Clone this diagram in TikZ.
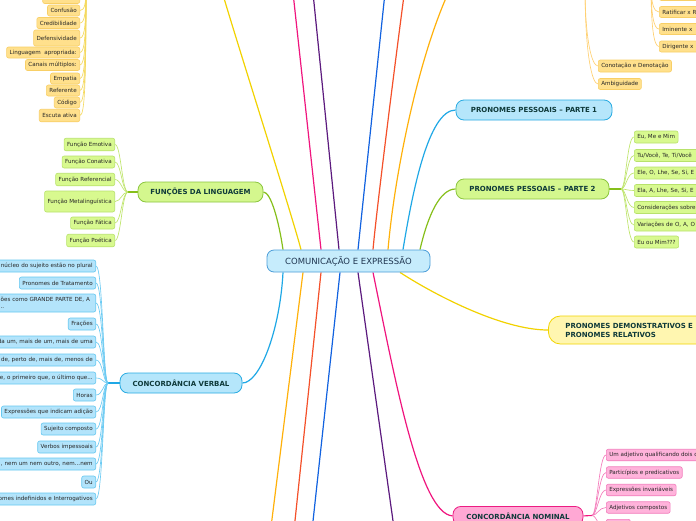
\documentclass[tikz,border=0pt]{standalone}
\usepackage{fontspec}
\setmainfont{DejaVu Sans}
\usetikzlibrary{backgrounds}
\definecolor{cFill}{HTML}{C6ECFC}
\definecolor{cDraw}{HTML}{4C9ED9}
\definecolor{cText}{HTML}{1F3550}
\definecolor{bMfill}{HTML}{B5E6FB}
\definecolor{bMdraw}{HTML}{29ABE2}
\definecolor{gMfill}{HTML}{D4F78E}
\definecolor{gMdraw}{HTML}{8CC63F}
\definecolor{yMfill}{HTML}{FFF6B0}
\definecolor{yMdraw}{HTML}{F2D400}
\definecolor{pMfill}{HTML}{FFA8D4}
\definecolor{pMdraw}{HTML}{EC1C83}
\definecolor{mainText}{HTML}{0F3A3A}
\definecolor{ySfill}{HTML}{FFE08C}
\definecolor{ySdraw}{HTML}{F8CF66}
\definecolor{gSfill}{HTML}{D8F98F}
\definecolor{gSdraw}{HTML}{B8E26B}
\definecolor{bSfill}{HTML}{B3E4FB}
\definecolor{bSdraw}{HTML}{66C8F0}
\definecolor{pSfill}{HTML}{FFB3DB}
\definecolor{pSdraw}{HTML}{F27CBC}
\definecolor{subText}{HTML}{262626}
\definecolor{lYellow}{HTML}{F2D200}
\definecolor{lPink}{HTML}{F0157E}
\definecolor{lPurple}{HTML}{5C1A7E}
\definecolor{lBlue}{HTML}{1162E0}
\definecolor{lRed}{HTML}{F4502A}
\definecolor{lOrange}{HTML}{FFB10A}
\definecolor{lCyan}{HTML}{1FA8E6}
\definecolor{lGreen}{HTML}{86BF1A}
\definecolor{ySl}{HTML}{F5DA60}
\definecolor{oSl}{HTML}{FFD070}
\definecolor{gSl}{HTML}{BEE56A}
\definecolor{bSl}{HTML}{6CCBF3}
\definecolor{pSl}{HTML}{F57BBB}
\begin{document}
\begin{tikzpicture}[x=1pt,y=-1pt,
  mainbox/.style={draw, line width=0.8pt, rounded corners=8pt, minimum height=20pt, inner sep=0pt, font=\bfseries\fontsize{7}{9}\selectfont, text=mainText},
  blueM/.style={mainbox, fill=bMfill, draw=bMdraw},
  greenM/.style={mainbox, fill=gMfill, draw=gMdraw},
  yellowM/.style={mainbox, fill=yMfill, draw=yMdraw},
  pinkM/.style={mainbox, fill=pMfill, draw=pMdraw},
  centerbox/.style={draw=cDraw, fill=cFill, line width=0.8pt, rounded corners=7pt, minimum width=163pt, minimum height=22pt, inner sep=0pt, font=\fontsize{8.5}{10}\selectfont, text=cText},
  sub/.style={draw, line width=0.6pt, rounded corners=2pt, inner xsep=3pt, inner ysep=0pt, minimum height=12pt, font=\fontsize{5.6}{6.6}\selectfont, text=subText},
  ysub/.style={sub, fill=ySfill, draw=ySdraw, minimum height=11pt},
  gsub/.style={sub, fill=gSfill, draw=gSdraw},
  bsub/.style={sub, fill=bSfill, draw=bSdraw},
  psub/.style={sub, fill=pSfill, draw=pSdraw, minimum height=11.5pt},
  br/.style={line width=1.2pt},
  sl/.style={line width=0.65pt},
  trunk/.style={line width=1.1pt},
  cutl/.style={text width=110pt, align=right},
  cutr/.style={text width=80pt, align=left}
]
\useasboundingbox (0,0) rectangle (696,520);

% central
\node[centerbox] (c) at (348.5,261) {COMUNICAÇÃO E EXPRESSÃO};

% main topics
\node[blueM, minimum width=156pt] (P1) at (534,110) {PRONOMES PESSOAIS – PARTE 1};
\node[greenM, minimum width=153pt] (P2) at (532.5,189) {PRONOMES PESSOAIS – PARTE 2};
\node[greenM, minimum width=125pt] (FL) at (200.5,192) {FUNÇÕES DA LINGUAGEM};
\node[blueM, minimum width=122pt] (CV) at (181,383) {CONCORDÂNCIA VERBAL};
\node[pinkM, minimum width=130pt, minimum height=19pt, anchor=north] (CN) at (518,506) {CONCORDÂNCIA NOMINAL};
\node[yellowM, anchor=west, minimum height=28pt, text width=175pt, align=left, inner xsep=17pt, rounded corners=12pt] (PD) at (548,330) {PRONOMES DEMONSTRATIVOS E\\PRONOMES RELATIVOS};

% top-left yellow subtopics
\node[ysub, anchor=east, minimum width=37pt] (tl0) at (80,-2) {};
\node[ysub, anchor=east] (tl1) at (80,10.5) {Confusão};
\node[ysub, anchor=east] (tl2) at (80,23) {Credibilidade};
\node[ysub, anchor=east, minimum height=16pt] (tl3) at (80,38) {Defensividade};
\node[ysub, anchor=east] (tl4) at (80,52.5) {Linguagem\ \ apropriada:};
\node[ysub, anchor=east] (tl5) at (80,65) {Canais múltiplos:};
\node[ysub, anchor=east] (tl6) at (80,78.5) {Empatia};
\node[ysub, anchor=east] (tl7) at (80,90.5) {Referente};
\node[ysub, anchor=east] (tl8) at (80,102.5) {Código};
\node[ysub, anchor=east, minimum height=12.5pt] (tl9) at (80,115.5) {Escuta ativa};

% top-right orange subtopics
\node[ysub, anchor=west, minimum height=12pt] (o1) at (598,66) {Conotação e Denotação};
\node[ysub, anchor=west] (o2) at (598,84) {Ambiguidade};
\node[ysub, anchor=west, text width=60pt] (o0) at (659,-5) {};
\node[ysub, anchor=west, cutr, text width=60pt] (o3) at (659,12) {Ratificar x R};
\node[ysub, anchor=west, cutr, text width=60pt] (o4) at (659,29) {Iminente x};
\node[ysub, anchor=west, cutr, text width=60pt] (o5) at (659,46.5) {Dirigente x};

% funções da linguagem
\node[gsub, anchor=east, minimum height=12.5pt] (fe) at (115,144.5) {Função Emotiva};
\node[gsub, anchor=east] (fc) at (115,162) {Função Conativa};
\node[gsub, anchor=east, minimum height=12.5pt] (fr) at (115,179.5) {Função Referencial};
\node[gsub, anchor=east, minimum height=21pt] (fm) at (115,201.5) {Função Metalinguística};
\node[gsub, anchor=east] (ff) at (115,223) {Função Fática};
\node[gsub, anchor=east, minimum height=12.5pt] (fp) at (115,240.5) {Função Poética};

% pronomes pessoais parte 2
\node[gsub, anchor=west] (p1) at (634,137) {Eu, Me e Mim};
\node[gsub, anchor=west, cutr] (p2) at (634,155.5) {Tu/Você, Te, Ti/Você};
\node[gsub, anchor=west, cutr] (p3) at (634,173) {Ele, O, Lhe, Se, Si, E};
\node[gsub, anchor=west, cutr] (p4) at (634,190.5) {Ela, A, Lhe, Se, Si, E};
\node[gsub, anchor=west, cutr] (p5) at (634,207.5) {Considerações sobre};
\node[gsub, anchor=west, cutr] (p6) at (634,225) {Variações de O, A, O};
\node[gsub, anchor=west] (p7) at (634,242) {Eu ou Mim???};

% concordância verbal
\node[bsub, anchor=east, cutl] (v1) at (96,266) {núcleo do sujeito estão no plural};
\node[bsub, anchor=east] (v2) at (96,283) {Pronomes de Tratamento};
\node[bsub, anchor=east, text width=92pt, align=left, minimum height=18pt] (v3) at (96,303) {ões como GRANDE PARTE DE, A\\..};
\node[bsub, anchor=east] (v4) at (96,324) {Frações};
\node[bsub, anchor=east, cutl] (v5) at (96,342) {da um, mais de um, mais de uma};
\node[bsub, anchor=east, cutl] (v6) at (96,360) {de, perto de, mais de, menos de};
\node[bsub, anchor=east, cutl] (v7) at (96,378) {e, o primeiro que, o último que...};
\node[bsub, anchor=east] (v8) at (96,395) {Horas};
\node[bsub, anchor=east] (v9) at (96,412) {Expressões que indicam adição};
\node[bsub, anchor=east] (v10) at (96,429) {Sujeito composto};
\node[bsub, anchor=east] (v11) at (96,447) {Verbos impessoais};
\node[bsub, anchor=east, cutl] (v12) at (96,464) {, nem um nem outro, nem...nem};
\node[bsub, anchor=east] (v13) at (96,482) {Ou};
\node[bsub, anchor=east, cutl] (v14) at (96,499) {omes indefinidos e Interrogativos};

% concordância nominal
\node[psub, anchor=west, cutr, text width=100pt] (n1) at (606,455) {Um adjetivo qualificando dois o};
\node[psub, anchor=west] (n2) at (606,472.5) {Particípios e predicativos};
\node[psub, anchor=west] (n3) at (606,490) {Expressões invariáveis};
\node[psub, anchor=west] (n4) at (606,507.5) {Adjetivos compostos};
\node[psub, anchor=north west, minimum width=24pt] (n5) at (606,519) {};

% off-canvas and trunk coordinates
\coordinate (tY) at (221,-12);
\coordinate (tPk) at (292.5,-12);
\coordinate (tPu) at (312.5,-12);
\coordinate (tBl) at (385.5,-12);
\coordinate (tRd) at (405,-12);
\coordinate (tOr) at (452,-15);
\coordinate (bOr) at (270,535);
\coordinate (bRd) at (293.5,535);
\coordinate (bBl) at (311.5,535);
\coordinate (bPu) at (395,535);
\coordinate (tlT) at (86,-15);
\coordinate (orT) at (585,-15);
\coordinate (or2T) at (651,-15);
\coordinate (FLt) at (128,192);
\coordinate (CVt) at (108,383);
\coordinate (P2t) at (621,189);
\coordinate (CNt) at (592,515.5);

\begin{scope}[on background layer]
\fill[white] (0,0) rectangle (696,520);
% main branches
\draw[br, lGreen] ([xshift=-65.5pt]c.north) .. controls (279,222) and (271,192) .. (FL.east);
\draw[br, lYellow] ([xshift=-47.5pt]c.north) .. controls (292,215) and (233,30) .. (tY);
\draw[br, lPink] ([xshift=-27.5pt]c.north) -- (tPk);
\draw[br, lPurple] ([xshift=-9.5pt]c.north) -- (tPu);
\draw[br, lBlue] ([xshift=9.5pt]c.north) -- (tBl);
\draw[br, lRed] ([xshift=24.5pt]c.north) .. controls (377,205) and (398,40) .. (tRd);
\draw[br, lOrange] ([xshift=39.5pt]c.north) .. controls (395,170) and (420,50) .. (tOr);
\draw[br, lCyan] ([xshift=54.5pt]c.north) .. controls (412,195) and (428,110) .. (P1.west);
\draw[br, lGreen] ([xshift=71.5pt]c.north) .. controls (428,215) and (440,189) .. (P2.west);
\draw[br, lCyan] ([xshift=-65.5pt]c.south) .. controls (280,330) and (260,383) .. (CV.east);
\draw[br, lOrange] ([xshift=-45.5pt]c.south) -- (bOr);
\draw[br, lRed] ([xshift=-27.5pt]c.south) -- (bRd);
\draw[br, lBlue] ([xshift=-8.5pt]c.south) -- (bBl);
\draw[br, lPurple] ([xshift=9.5pt]c.south) -- (bPu);
\draw[br, lPink] ([xshift=24.5pt]c.south) .. controls (395,380) and (420,514) .. (CN.west);
\draw[br, lYellow] ([xshift=51.5pt]c.south) .. controls (430,292) and (500,330) .. (PD.west);

% sub connectors
\foreach \n/\y in {tl0/-2,tl1/10.5,tl2/23,tl3/38,tl4/52.5,tl5/65,tl6/78.5,tl7/90.5,tl8/102.5,tl9/115.5}
  \draw[sl, ySl] (tlT) .. controls +(0,{(\y+15)*0.7}) and +(5,0) .. (\n.east);
\foreach \n/\y in {o1/66,o2/84}
  \draw[sl, oSl] (orT) .. controls +(0,{(\y+15)*0.7}) and +(-6,0) .. (\n.west);
\foreach \n/\y in {o0/-5,o3/12,o4/29,o5/46.5}
  \draw[sl, oSl] (or2T) .. controls +(0,{(\y+15)*0.7}) and +(-5,0) .. (\n.west);

\draw[trunk, lGreen] (FL.west) -- (FLt);
\foreach \n in {fe,fc,fr,fm,ff,fp}
  \draw[sl, gSl] (FLt) .. controls +(-6,0) and +(6,0) .. (\n.east);

\draw[trunk, lGreen] (P2.east) -- (P2t);
\foreach \n in {p1,p2,p3,p4,p5,p6,p7}
  \draw[sl, gSl] (P2t) .. controls +(5,0) and +(-7,0) .. (\n.west);

\draw[trunk, lCyan] (CV.west) -- (CVt);
\foreach \n in {v1,v2,v3,v4,v5,v6,v7,v8,v9,v10,v11,v12,v13,v14}
  \draw[sl, bSl] (CVt) .. controls +(-5,0) and +(7,0) .. (\n.east);

\draw[trunk, lPink] (CN.east) -- (CNt);
\foreach \n in {n1,n2,n3,n4}
  \draw[sl, pSl] (CNt) .. controls +(5,0) and +(-7,0) .. (\n.west);
\draw[sl, pSl] (CNt) .. controls +(5,0) and +(-7,0) .. ([yshift=-5pt]n5.west);
\end{scope}
\end{tikzpicture}
\end{document}
